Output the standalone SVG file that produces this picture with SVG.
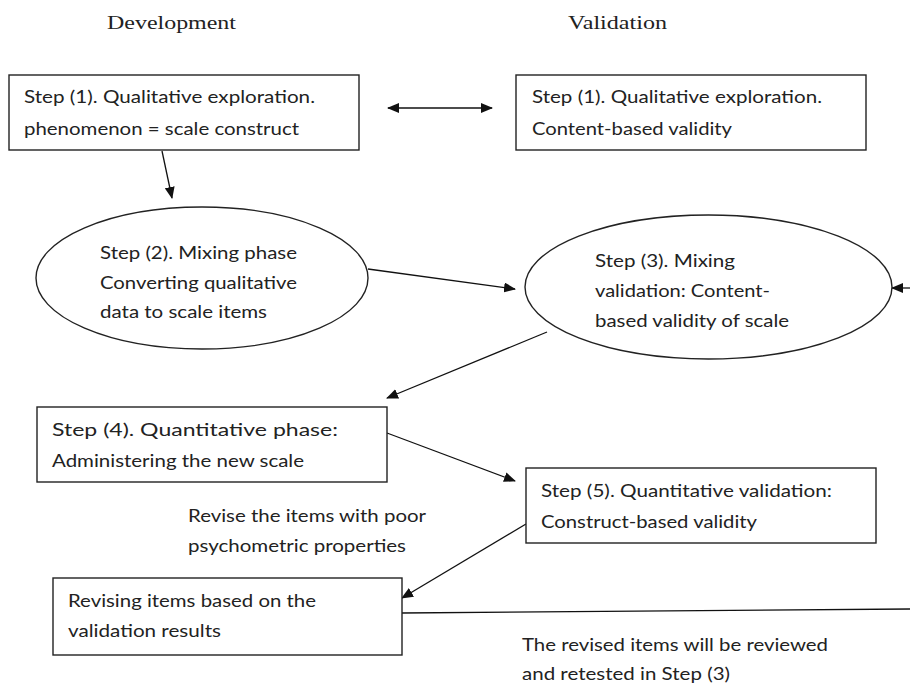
<svg xmlns="http://www.w3.org/2000/svg" width="910" height="686" viewBox="0 0 910 686">
<defs>
<style>
.box{fill:#fff;stroke:#222;stroke-width:1.4}
.t{font-family:Lato,"Liberation Sans",sans-serif;font-size:18px;fill:#222}
.h{font-family:"Liberation Serif",serif;font-size:18px;fill:#222}
.c{fill:none;stroke:#111;stroke-width:1.3}
</style>
<marker id="ah" markerUnits="userSpaceOnUse" markerWidth="12" markerHeight="10" refX="11" refY="5" orient="auto-start-reverse">
<path d="M0,0 L12,5 L0,10 Z" fill="#111"/>
</marker>
</defs>
<rect width="910" height="686" fill="#fff"/>
<g id="headers">
<text class="h" x="107" y="29" textLength="129" lengthAdjust="spacingAndGlyphs">Development</text>
<text class="h" x="568" y="29" textLength="99" lengthAdjust="spacingAndGlyphs">Validation</text>
</g>
<g id="connectors">
<line class="c" x1="388" y1="108" x2="492" y2="108" marker-start="url(#ah)" marker-end="url(#ah)"/>
<line class="c" x1="162" y1="151" x2="172" y2="198" marker-end="url(#ah)"/>
<line class="c" x1="368" y1="269" x2="515" y2="289" marker-end="url(#ah)"/>
<line class="c" x1="910" y1="288" x2="892" y2="288" marker-end="url(#ah)"/>
<line class="c" x1="547" y1="332" x2="387" y2="398" marker-end="url(#ah)"/>
<line class="c" x1="387" y1="433" x2="515" y2="481" marker-end="url(#ah)"/>
<line class="c" x1="526" y1="524" x2="402" y2="598" marker-end="url(#ah)"/>
<line class="c" x1="402" y1="613" x2="910" y2="609"/>
</g>
<g id="dev-step1">
<rect class="box" x="9" y="75" width="350" height="75"/>
<text class="t" x="24" y="103" textLength="291" lengthAdjust="spacingAndGlyphs">Step (1). Qualitative exploration.</text>
<text class="t" x="24" y="135" textLength="275" lengthAdjust="spacingAndGlyphs">phenomenon = scale construct</text>
</g>
<g id="val-step1">
<rect class="box" x="516" y="75" width="350" height="75"/>
<text class="t" x="532" y="103" textLength="290" lengthAdjust="spacingAndGlyphs">Step (1). Qualitative exploration.</text>
<text class="t" x="532" y="135" textLength="200" lengthAdjust="spacingAndGlyphs">Content-based validity</text>
</g>
<g id="step2">
<ellipse class="box" cx="202" cy="278" rx="166" ry="71"/>
<text class="t" x="100" y="259" textLength="197" lengthAdjust="spacingAndGlyphs">Step (2). Mixing phase</text>
<text class="t" x="100" y="289" textLength="197" lengthAdjust="spacingAndGlyphs">Converting qualitative</text>
<text class="t" x="100" y="318" textLength="167" lengthAdjust="spacingAndGlyphs">data to scale items</text>
</g>
<g id="step3">
<ellipse class="box" cx="708.5" cy="287" rx="183.5" ry="72"/>
<text class="t" x="595" y="267" textLength="140" lengthAdjust="spacingAndGlyphs">Step (3). Mixing</text>
<text class="t" x="595" y="297" textLength="175" lengthAdjust="spacingAndGlyphs">validation: Content-</text>
<text class="t" x="595" y="327" textLength="194" lengthAdjust="spacingAndGlyphs">based validity of scale</text>
</g>
<g id="step4">
<rect class="box" x="37" y="407" width="350" height="75"/>
<text class="t" x="52" y="436" textLength="286" lengthAdjust="spacingAndGlyphs">Step (4). Quantitative phase:</text>
<text class="t" x="52" y="467" textLength="252" lengthAdjust="spacingAndGlyphs">Administering the new scale</text>
</g>
<g id="step5">
<rect class="box" x="526" y="468" width="350" height="75"/>
<text class="t" x="541" y="497" textLength="291" lengthAdjust="spacingAndGlyphs">Step (5). Quantitative validation:</text>
<text class="t" x="541" y="528" textLength="216" lengthAdjust="spacingAndGlyphs">Construct-based validity</text>
</g>
<g id="revise-note">
<text class="t" x="188" y="522" textLength="238" lengthAdjust="spacingAndGlyphs">Revise the items with poor</text>
<text class="t" x="188" y="552" textLength="218" lengthAdjust="spacingAndGlyphs">psychometric properties</text>
</g>
<g id="revising">
<rect class="box" x="53" y="578" width="349" height="77"/>
<text class="t" x="68" y="607" textLength="248" lengthAdjust="spacingAndGlyphs">Revising items based on the</text>
<text class="t" x="68" y="637" textLength="153" lengthAdjust="spacingAndGlyphs">validation results</text>
</g>
<g id="retest-note">
<text class="t" x="522" y="651" textLength="306" lengthAdjust="spacingAndGlyphs">The revised items will be reviewed</text>
<text class="t" x="522" y="680" textLength="208" lengthAdjust="spacingAndGlyphs">and retested in Step (3)</text>
</g>
</svg>
